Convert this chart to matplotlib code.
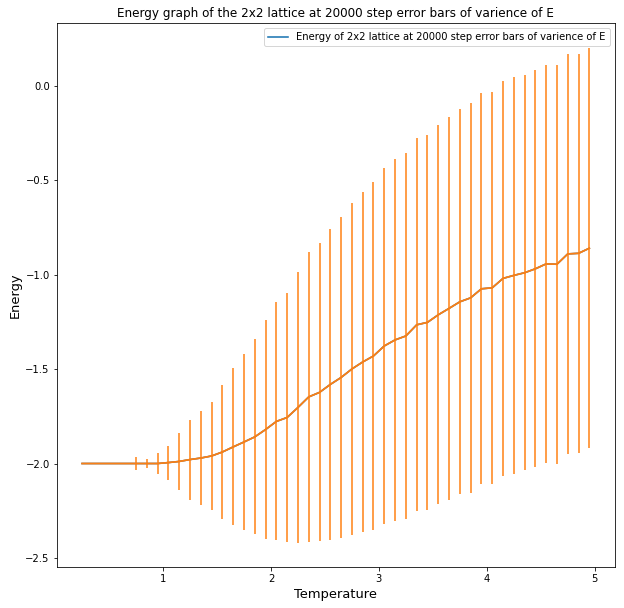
import matplotlib
matplotlib.use("Agg")
import matplotlib.pyplot as plt
import numpy as np

temperature = [0.25, 0.35, 0.45, 0.55, 0.65, 0.75, 0.85, 0.95, 1.05, 1.15,
               1.25, 1.35, 1.45, 1.55, 1.65, 1.75, 1.85, 1.95, 2.05, 2.15,
               2.25, 2.35, 2.45, 2.55, 2.65, 2.75, 2.85, 2.95, 3.05, 3.15,
               3.25, 3.35, 3.45, 3.55, 3.65, 3.75, 3.85, 3.95, 4.05, 4.15,
               4.25, 4.35, 4.45, 4.55, 4.65, 4.75, 4.85, 4.95]
energy = [-2.0, -2.0, -2.0, -2.0, -2.0, -2.0, -2.0, -2.0, -1.995, -1.989,
          -1.979, -1.971, -1.960, -1.939, -1.912, -1.886, -1.859, -1.820, -1.777, -1.756,
          -1.703, -1.647, -1.623, -1.581, -1.544, -1.499, -1.462, -1.430, -1.377, -1.345,
          -1.324, -1.265, -1.252, -1.212, -1.178, -1.143, -1.122, -1.074, -1.069, -1.019,
          -1.003, -0.989, -0.968, -0.942, -0.944, -0.889, -0.886, -0.859]
variance = [0.0, 0.0, 0.0, 0.0, 0.0, 0.034, 0.025, 0.057, 0.090, 0.149,
            0.212, 0.247, 0.284, 0.353, 0.416, 0.464, 0.517, 0.578, 0.631, 0.658,
            0.716, 0.767, 0.790, 0.822, 0.849, 0.878, 0.899, 0.920, 0.942, 0.958,
            0.968, 0.989, 0.992, 1.005, 1.013, 1.021, 1.032, 1.037, 1.037, 1.045,
            1.050, 1.048, 1.053, 1.053, 1.056, 1.058, 1.056, 1.061]

label = "Energy of 2x2 lattice at 20000 step error bars of varience of E"
title = "Energy graph of the 2x2 lattice at 20000 step error bars of varience of E"

fig = plt.figure(figsize=(624/72, 608/72), dpi=72)
ax = fig.add_axes([56.7/624, (608-567.3)/608, 558/624, 544/608])
ax.plot(temperature, energy, color="#1f77b4", lw=1.6, label=label)
ax.errorbar(temperature, energy, yerr=variance, color="#ff7f0e", lw=1.6, elinewidth=2, alpha=0.75)
ax.plot(temperature, energy, color="#e8802a", lw=1.6)
ax.set_title(title, fontsize=12)
ax.set_xlabel("Temperature", fontsize=13)
ax.set_ylabel("Energy", fontsize=13)
ax.tick_params(labelsize=10)
ax.legend(loc="upper right", fontsize=10)
fig.savefig("out.png", dpi=72)
